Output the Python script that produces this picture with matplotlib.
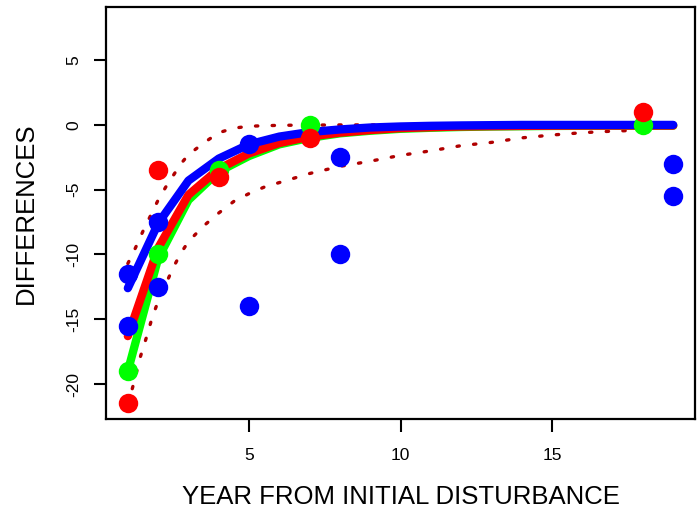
import matplotlib
matplotlib.use("Agg")
import matplotlib.pyplot as plt
import numpy as np

plt.rcParams['font.family'] = ['Liberation Sans', 'DejaVu Sans']

# observed differences (year, value)
red_x = [1, 2, 4, 7, 18]
red_y = [-21.5, -3.5, -4.0, -1.0, 1.0]
green_x = [1, 2, 4, 7, 18]
green_y = [-19.0, -10.0, -3.5, 0.0, 0.0]
blue_x = [1, 1, 2, 2, 5, 5, 8, 8, 19, 19]
blue_y = [-11.5, -15.5, -7.5, -12.5, -14.0, -1.5, -2.5, -10.0, -3.0, -5.5]

# fitted curves read at each year
fit_x = list(range(1, 20))
fit_blue = [-12.6, -7.6, -4.3, -2.6, -1.5, -0.9, -0.55, -0.35, -0.2, -0.12,
            -0.07, -0.04, -0.02, 0.0, 0.0, 0.0, 0.0, 0.0, 0.0]
fit_red = [-16.3, -9.5, -5.4, -3.4, -2.2, -1.4, -0.9, -0.6, -0.4, -0.25,
           -0.18, -0.12, -0.1, -0.08, -0.06, -0.05, -0.05, -0.05, -0.05]
fit_green = [-19.0, -10.3, -5.8, -3.6, -2.4, -1.5, -1.0, -0.65, -0.45, -0.3,
             -0.22, -0.16, -0.12, -0.1, -0.08, -0.07, -0.06, -0.06, -0.06]

# dotted bands
up_x = [1, 1.25, 1.5, 1.75, 2, 2.25, 2.5, 2.75, 3, 3.5, 4, 4.5, 5, 6, 8, 12, 18]
up_y = [-10.7, -9.5, -8.2, -7.0, -5.8, -4.8, -3.9, -3.0, -2.3, -1.4, -0.6,
        -0.25, -0.1, -0.03, 0.0, 0.0, 0.0]
lo_x = [1, 1.2, 1.4, 1.6, 1.8, 2, 2.25, 2.5, 2.75, 3, 3.5, 4, 4.5, 5, 5.5, 6,
        7, 8, 9, 10, 11, 12, 13, 14, 15, 16, 17, 18]
lo_y = [-21.6, -19.9, -18.0, -16.5, -14.9, -13.6, -12.3, -11.0, -9.9, -9.0,
        -7.8, -6.8, -5.9, -5.3, -4.8, -4.45, -3.75, -3.2, -2.8, -2.35, -2.0,
        -1.6, -1.35, -1.0, -0.78, -0.6, -0.48, -0.4]

fig = plt.figure(figsize=(6.98, 5.12), dpi=100)
ax = fig.add_axes([0.1519, 0.1816, 0.8438, 0.8047])

dcol = '#b00000'
ax.plot(up_x, up_y, color=dcol, lw=2.4, ls=(0, (0.7, 4.3)), dash_capstyle='round', zorder=2)
ax.plot(lo_x, lo_y, color=dcol, lw=2.4, ls=(0, (0.7, 4.3)), dash_capstyle='round', zorder=2)

ax.plot(fit_x, fit_green, color='#00ff00', lw=6, solid_capstyle='round', solid_joinstyle='round', zorder=3)
ax.plot(fit_x, fit_red, color='red', lw=6, solid_capstyle='round', solid_joinstyle='round', zorder=4)
ax.plot(fit_x, fit_blue, color='blue', lw=6, solid_capstyle='round', solid_joinstyle='round', zorder=5)

ax.plot(green_x, green_y, 'o', color='#00ff00', ms=14, mew=0, zorder=6)
ax.plot(blue_x, blue_y, 'o', color='blue', ms=14, mew=0, zorder=7)
ax.plot(red_x, red_y, 'o', color='red', ms=14, mew=0, zorder=8)

ax.set_xlim(0.28, 19.72)
ax.set_ylim(-22.7, 9.1)
ax.set_xticks([5, 10, 15])
ax.set_yticks([-20, -15, -10, -5, 0, 5])
ax.set_yticklabels(['-20', '-15', '-10', '-5', '0', '5'], rotation=90, va='center')
ax.tick_params(axis='both', length=9, width=1.5, labelsize=12.5)
ax.tick_params(axis='x', pad=12)
ax.tick_params(axis='y', pad=9)
for s in ax.spines.values():
    s.set_linewidth(1.6)

ax.set_xlabel('YEAR FROM INITIAL DISTURBANCE', fontsize=18.5, labelpad=16)
ax.set_ylabel('DIFFERENCES', fontsize=18.5, labelpad=20)

fig.savefig('out.png', dpi=100)
